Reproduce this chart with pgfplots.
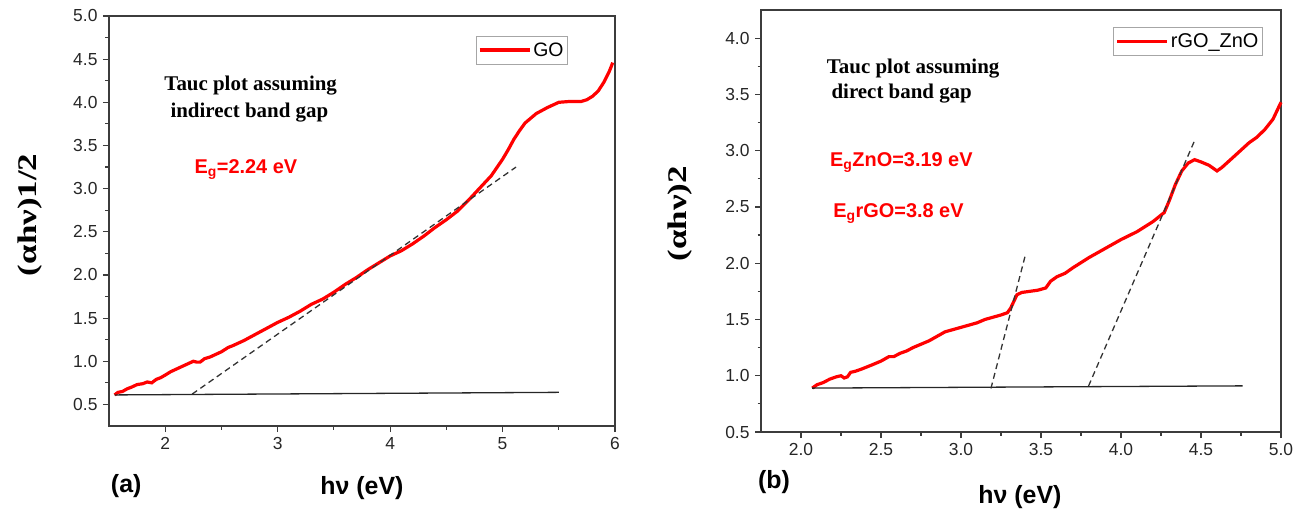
\documentclass[border=0pt]{standalone}
\usepackage{pgfplots}
\pgfplotsset{compat=1.18}
\usepackage{fontspec}
\setmainfont{Liberation Sans}
\newfontfamily\timesf{Liberation Serif}
\usepackage{graphicx}
\definecolor{curvered}{RGB}{255,0,0}
\definecolor{axisgray}{RGB}{60,60,60}

\pgfplotstableread{
x y
1.55 0.61
1.58 0.64
1.62 0.65
1.66 0.68
1.70 0.70
1.75 0.73
1.80 0.74
1.84 0.76
1.88 0.75
1.92 0.79
1.96 0.81
2.00 0.84
2.05 0.88
2.10 0.91
2.15 0.94
2.20 0.97
2.25 1.00
2.28 0.99
2.31 0.99
2.35 1.03
2.40 1.05
2.50 1.11
2.56 1.16
2.60 1.18
2.70 1.24
2.80 1.31
2.90 1.38
3.00 1.45
3.10 1.51
3.20 1.58
3.30 1.66
3.35 1.69
3.40 1.72
3.50 1.80
3.60 1.89
3.70 1.97
3.80 2.06
3.90 2.14
4.00 2.22
4.10 2.28
4.20 2.36
4.30 2.45
4.40 2.55
4.50 2.64
4.60 2.74
4.70 2.87
4.80 3.01
4.90 3.15
5.00 3.34
5.05 3.45
5.10 3.57
5.15 3.67
5.20 3.76
5.30 3.87
5.40 3.94
5.50 4.00
5.60 4.01
5.70 4.01
5.75 4.03
5.80 4.07
5.85 4.13
5.90 4.23
5.95 4.36
5.98 4.46
}\godata

\pgfplotstableread{
x y
2.07 0.89
2.10 0.92
2.14 0.94
2.18 0.97
2.22 0.99
2.25 1.00
2.27 0.98
2.29 0.99
2.31 1.03
2.34 1.04
2.38 1.06
2.45 1.10
2.50 1.13
2.55 1.17
2.58 1.17
2.62 1.20
2.66 1.22
2.70 1.25
2.75 1.28
2.80 1.31
2.85 1.35
2.90 1.39
2.95 1.41
3.00 1.43
3.05 1.45
3.10 1.47
3.15 1.50
3.20 1.52
3.25 1.54
3.29 1.56
3.31 1.60
3.33 1.66
3.35 1.72
3.38 1.74
3.43 1.75
3.48 1.76
3.53 1.78
3.56 1.84
3.60 1.88
3.65 1.91
3.70 1.96
3.80 2.05
3.90 2.13
4.00 2.21
4.10 2.28
4.20 2.37
4.27 2.45
4.30 2.55
4.34 2.70
4.38 2.82
4.42 2.89
4.46 2.92
4.50 2.90
4.55 2.87
4.60 2.82
4.63 2.85
4.70 2.94
4.80 3.07
4.85 3.12
4.90 3.19
4.95 3.28
5.00 3.43
}\rgodata

\pgfplotsset{
  tauc/.style={
    scale only axis,
    clip=false,
    axis line style={axisgray, line width=1.4bp},
    tick align=outside,
    tick pos=left,
    major tick length=6bp,
    minor tick length=3.5bp,
    every tick/.style={axisgray, line width=1.2bp},
    tick label style={font=\fontsize{17.5}{17.5}\selectfont, text=black!85},
    xticklabel style={yshift=-2bp},
    yticklabel style={xshift=-2bp},
    /pgf/number format/assume math mode=true,
    xlabel style={font=\bfseries\fontsize{25}{25}\selectfont, anchor=center},
    ylabel style={font=\timesf\bfseries\fontsize{27}{27}\selectfont, anchor=center},
    legend style={draw=gray!70, line width=0.8bp, font=\fontsize{19.5}{19.5}\selectfont,
      inner xsep=2bp, inner ysep=4.5bp, anchor=north east},
    legend cell align=left,
    legend image code/.code={\draw[#1] (0bp,0bp) -- (50bp,0bp);},
  },
  curve/.style={curvered, line width=3.2bp},
  base/.style={black!85, line width=1.3bp},
  fit/.style={black!80, line width=1.3bp, dash pattern=on 6bp off 4bp},
}

\begin{document}
\begin{tikzpicture}
\useasboundingbox (0,0) rectangle (1312bp,509bp);

\begin{axis}[tauc,
  at={(109bp,83bp)}, anchor=south west,
  width=506bp, height=410bp,
  xmin=1.5, xmax=6, ymin=0.25, ymax=5,
  xtick={2,3,4,5,6}, minor x tick num=1,
  ytick={0.5,1,...,5}, minor y tick num=1,
  yticklabel style={/pgf/number format/.cd, fixed, fixed zerofill, precision=1},
  xlabel={hν (eV)},
  xlabel style={at={(axis description cs:0.5,-0.151)}},
  ylabel={\scalebox{1.3}[1]{(αhν)1/2}},
  ylabel style={at={(axis description cs:-0.156,0.515)}},
  legend style={at={(0.907,0.952)}},
]
\addplot[curve] table[x=x,y=y] {\godata};
\addlegendentry{GO}
\addplot[base, forget plot] coordinates {(1.55,0.61) (5.5,0.64)};
\addplot[fit, forget plot] coordinates {(2.24,0.62) (5.12,3.25)};
\node[anchor=base west, font=\timesf\bfseries\fontsize{21}{21}\selectfont] at (axis cs:1.962,4.135) {Tauc plot assuming};
\node[anchor=base west, font=\timesf\bfseries\fontsize{21}{21}\selectfont] at (axis cs:2.016,3.819) {indirect band gap};
\node[anchor=base west, text=curvered, font=\bfseries\fontsize{20}{20}\selectfont] at (axis cs:2.23,3.18) {E\textsubscript{g}=2.24 eV};
\node[font=\bfseries\fontsize{25}{25}\selectfont] at (axis description cs:0.034,-0.146) {(a)};
\end{axis}

\begin{axis}[tauc,
  at={(761bp,77bp)}, anchor=south west,
  width=520bp, height=422bp,
  xmin=1.75, xmax=5, ymin=0.5, ymax=4.25,
  xtick={2,2.5,...,5}, minor x tick num=1,
  ytick={0.5,1,...,4}, minor y tick num=1,
  xticklabel style={/pgf/number format/.cd, fixed, fixed zerofill, precision=1},
  yticklabel style={/pgf/number format/.cd, fixed, fixed zerofill, precision=1},
  xlabel={hν (eV)},
  xlabel style={at={(axis description cs:0.498,-0.154)}},
  ylabel={\scalebox{1.3}[1]{(αhν)2}},
  ylabel style={at={(axis description cs:-0.156,0.517)}},
  legend style={at={(0.965,0.960)}, font=\fontsize{20}{20}\selectfont},
]
\addplot[curve] table[x=x,y=y] {\rgodata};
\addlegendentry{rGO\_ZnO}
\addplot[base, forget plot] coordinates {(2.07,0.89) (4.76,0.91)};
\addplot[fit, forget plot] coordinates {(3.187,0.887) (3.40,2.06)};
\addplot[fit, forget plot] coordinates {(3.797,0.908) (4.46,3.09)};
\node[anchor=base west, font=\timesf\bfseries\fontsize{21}{21}\selectfont] at (axis cs:2.14,3.69) {Tauc plot assuming};
\node[anchor=base west, font=\timesf\bfseries\fontsize{21}{21}\selectfont] at (axis cs:2.169,3.46) {direct band gap};
\node[anchor=base west, text=curvered, font=\bfseries\fontsize{20}{20}\selectfont] at (axis cs:2.16,2.856) {E\textsubscript{g}ZnO=3.19 eV};
\node[anchor=base west, text=curvered, font=\bfseries\fontsize{20}{20}\selectfont] at (axis cs:2.18,2.41) {E\textsubscript{g}rGO=3.8 eV};
\node[font=\bfseries\fontsize{25}{25}\selectfont] at (axis description cs:0.025,-0.118) {(b)};
\end{axis}
\end{tikzpicture}
\end{document}
